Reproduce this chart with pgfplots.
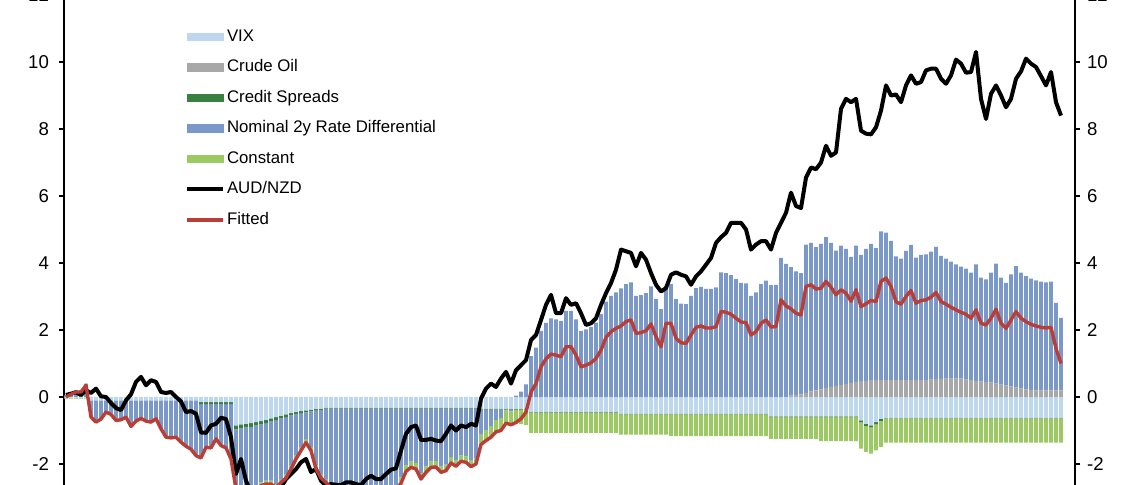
\documentclass[border=0pt]{standalone}
\usepackage{fontspec}
\setmainfont{Liberation Sans}
\usepackage{pgfplots}
\usepackage{pgfplotstable}
\pgfplotsset{compat=1.18}
\definecolor{vixc}{RGB}{189,215,238}
\definecolor{oilc}{RGB}{168,168,168}
\definecolor{credc}{RGB}{56,128,64}
\definecolor{nomc}{RGB}{122,152,202}
\definecolor{constc}{RGB}{155,201,98}
\definecolor{fitc}{RGB}{185,62,55}

\pgfplotstableread{
x aud fit vix oil cred nom const
0 0.06 0.00 -0.02 0 0 0.05 -0.03
1 0.10 0.08 -0.02 0 0 0.13 -0.03
2 0.14 0.15 -0.02 0 0 0.20 -0.03
3 0.06 0.15 -0.02 0 0 0.20 -0.03
4 0.20 0.35 -0.02 0 0 0.40 -0.03
5 0.12 -0.60 -0.10 0 0 -0.47 -0.03
6 0.25 -0.75 -0.10 0 0 -0.62 -0.03
7 0.02 -0.66 -0.10 0 0 -0.53 -0.03
8 0.00 -0.45 -0.10 0 0 -0.32 -0.03
9 -0.18 -0.52 -0.10 0 0 -0.39 -0.03
10 -0.33 -0.70 -0.10 0 0 -0.57 -0.03
11 -0.39 -0.68 -0.10 0 0 -0.55 -0.03
12 -0.10 -0.60 -0.10 0 0 -0.47 -0.03
13 0.08 -0.88 -0.10 0 0 -0.75 -0.03
14 0.45 -0.72 -0.10 0 0 -0.59 -0.03
15 0.60 -0.64 -0.10 0 0 -0.51 -0.03
16 0.35 -0.72 -0.10 0 0 -0.59 -0.03
17 0.50 -0.75 -0.10 0 0 -0.62 -0.03
18 0.45 -0.65 -0.10 0 0 -0.52 -0.03
19 0.15 -0.95 -0.10 0 0 -0.82 -0.03
20 0.12 -1.20 -0.10 0 0 -1.07 -0.03
21 0.15 -1.22 -0.10 0 0 -1.09 -0.03
22 0.00 -1.20 -0.10 0 0 -1.07 -0.03
23 -0.13 -1.35 -0.10 0 0 -1.22 -0.03
24 -0.45 -1.47 -0.10 0 0 -1.34 -0.03
25 -0.42 -1.56 -0.10 0 0 -1.43 -0.03
26 -0.50 -1.75 -0.10 0 0 -1.62 -0.03
27 -1.06 -1.82 -0.15 0 -0.06 -1.58 -0.03
28 -1.07 -1.50 -0.15 0 -0.06 -1.26 -0.03
29 -0.85 -1.52 -0.15 0 -0.06 -1.28 -0.03
30 -0.80 -1.25 -0.15 0 -0.06 -1.01 -0.03
31 -0.62 -1.45 -0.15 0 -0.06 -1.21 -0.03
32 -0.66 -1.52 -0.15 0 -0.06 -1.28 -0.03
33 -1.20 -1.85 -0.15 0 -0.06 -1.61 -0.03
34 -2.30 -2.75 -0.85 0 -0.12 -1.68 -0.10
35 -1.85 -2.80 -0.82 0 -0.12 -1.76 -0.10
36 -2.50 -2.90 -0.80 0 -0.11 -1.89 -0.10
37 -2.85 -2.95 -0.78 0 -0.11 -1.96 -0.10
38 -2.90 -2.85 -0.75 0 -0.10 -1.90 -0.10
39 -2.90 -2.65 -0.72 0 -0.10 -1.73 -0.10
40 -2.85 -2.60 -0.68 0 -0.10 -1.72 -0.10
41 -2.80 -2.60 -0.64 0 -0.09 -1.77 -0.10
42 -2.80 -2.70 -0.60 0 -0.09 -1.91 -0.10
43 -2.70 -2.55 -0.56 0 -0.08 -1.81 -0.10
44 -2.45 -2.42 -0.52 0 -0.08 -1.72 -0.10
45 -2.30 -2.15 -0.48 0 -0.07 -1.50 -0.10
46 -2.15 -1.85 -0.45 0 -0.07 -1.23 -0.10
47 -1.95 -1.60 -0.42 0 -0.06 -1.02 -0.10
48 -1.85 -1.36 -0.40 0 -0.06 -0.80 -0.10
49 -2.24 -1.60 -0.38 0 -0.05 -1.07 -0.10
50 -2.15 -2.15 -0.36 0 -0.05 -1.64 -0.10
51 -2.50 -2.42 -0.35 0 -0.05 -1.92 -0.10
52 -2.65 -2.55 -0.32 0 -0.03 -2.10 -0.10
53 -2.60 -2.70 -0.32 0 -0.03 -2.25 -0.10
54 -2.62 -2.80 -0.32 0 -0.03 -2.35 -0.10
55 -2.63 -2.85 -0.32 0 -0.03 -2.40 -0.10
56 -2.55 -2.85 -0.32 0 -0.03 -2.40 -0.10
57 -2.55 -2.90 -0.32 0 -0.03 -2.45 -0.10
58 -2.60 -2.85 -0.32 0 -0.03 -2.40 -0.10
59 -2.63 -2.80 -0.32 0 -0.03 -2.35 -0.10
60 -2.45 -2.85 -0.32 0 -0.03 -2.40 -0.10
61 -2.35 -2.90 -0.32 0 -0.03 -2.45 -0.10
62 -2.45 -2.85 -0.32 0 -0.03 -2.40 -0.10
63 -2.45 -2.80 -0.32 0 -0.03 -2.35 -0.10
64 -2.30 -2.80 -0.32 0 -0.03 -2.35 -0.10
65 -2.17 -2.85 -0.32 0 -0.03 -2.40 -0.10
66 -2.13 -2.75 -0.32 0 -0.03 -2.30 -0.10
67 -1.60 -2.58 -0.32 0 -0.03 -2.05 -0.18
68 -1.10 -2.22 -0.32 0 -0.03 -1.69 -0.18
69 -0.90 -2.10 -0.32 0 -0.03 -1.57 -0.18
70 -0.85 -2.15 -0.32 0 -0.03 -1.62 -0.18
71 -1.28 -2.45 -0.32 0 -0.03 -1.92 -0.18
72 -1.28 -2.25 -0.32 0 -0.03 -1.72 -0.18
73 -1.25 -2.10 -0.32 0 -0.03 -1.57 -0.18
74 -1.30 -2.09 -0.32 0 -0.03 -1.56 -0.18
75 -1.32 -2.25 -0.32 0 -0.03 -1.72 -0.18
76 -1.10 -2.20 -0.32 0 -0.03 -1.67 -0.18
77 -0.85 -1.97 -0.32 0 -0.03 -1.44 -0.18
78 -1.00 -2.07 -0.32 0 -0.03 -1.54 -0.18
79 -0.85 -1.92 -0.32 0 -0.03 -1.39 -0.18
80 -0.90 -1.95 -0.32 0 -0.03 -1.42 -0.18
81 -0.80 -2.08 -0.32 0 -0.03 -1.55 -0.18
82 -0.85 -2.00 -0.32 0 -0.03 -1.47 -0.18
83 -0.05 -1.42 -0.35 0 -0.03 -0.74 -0.30
84 0.25 -1.30 -0.35 0 -0.03 -0.60 -0.32
85 0.40 -1.20 -0.35 0 -0.03 -0.49 -0.33
86 0.30 -1.04 -0.35 0 -0.03 -0.31 -0.35
87 0.55 -1.00 -0.35 0 -0.03 -0.25 -0.37
88 0.75 -0.78 -0.35 0 -0.03 -0.02 -0.38
89 0.40 -0.83 -0.35 0 -0.03 -0.05 -0.40
90 0.80 -0.76 -0.35 0 -0.03 0.04 -0.42
91 0.95 -0.65 -0.35 0 -0.03 0.16 -0.43
92 1.10 -0.45 -0.35 0 -0.03 0.38 -0.45
93 1.70 0.15 -0.45 0 -0.02 1.22 -0.60
94 1.85 0.40 -0.45 0 -0.02 1.47 -0.60
95 2.30 0.90 -0.45 0 -0.02 1.97 -0.60
96 2.75 1.14 -0.45 0 -0.02 2.21 -0.60
97 3.05 1.28 -0.45 0 -0.02 2.35 -0.60
98 2.50 1.25 -0.45 0 -0.02 2.32 -0.60
99 2.50 1.20 -0.45 0 -0.02 2.27 -0.60
100 2.95 1.50 -0.45 0 -0.02 2.57 -0.60
101 2.75 1.50 -0.45 0 -0.02 2.57 -0.60
102 2.80 1.25 -0.45 0 -0.02 2.32 -0.60
103 2.50 0.90 -0.45 0 -0.02 1.97 -0.60
104 2.15 0.95 -0.45 0 -0.02 2.02 -0.60
105 2.20 1.02 -0.45 0 -0.02 2.09 -0.60
106 2.35 1.15 -0.45 0 -0.02 2.22 -0.60
107 2.75 1.40 -0.45 0 -0.02 2.47 -0.60
108 3.10 1.78 -0.45 0 -0.02 2.85 -0.60
109 3.40 1.95 -0.45 0 -0.02 3.02 -0.60
110 3.80 2.05 -0.45 0 -0.02 3.12 -0.60
111 4.40 2.12 -0.50 0 -0.02 3.24 -0.60
112 4.35 2.25 -0.50 0 -0.02 3.37 -0.60
113 4.30 2.30 -0.50 0 -0.02 3.42 -0.60
114 3.90 1.90 -0.50 0 -0.02 3.02 -0.60
115 4.30 1.92 -0.50 0 -0.02 3.04 -0.60
116 4.10 1.98 -0.50 0 -0.02 3.10 -0.60
117 3.70 2.18 -0.50 0 -0.02 3.30 -0.60
118 3.35 1.80 -0.50 0 -0.02 2.92 -0.60
119 3.15 1.50 -0.50 0 -0.02 2.62 -0.60
120 3.25 2.20 -0.50 0 -0.02 3.32 -0.60
121 3.65 2.20 -0.50 0 -0.02 3.37 -0.65
122 3.72 1.75 -0.50 0 -0.02 2.92 -0.65
123 3.65 1.62 -0.50 0 -0.02 2.79 -0.65
124 3.60 1.60 -0.50 0 -0.02 2.77 -0.65
125 3.35 1.85 -0.50 0 -0.02 3.02 -0.65
126 3.60 2.08 -0.50 0 -0.02 3.25 -0.65
127 3.75 2.12 -0.50 0 -0.02 3.29 -0.65
128 3.95 2.06 -0.50 0 -0.02 3.23 -0.65
129 4.15 2.06 -0.50 0 -0.02 3.23 -0.65
130 4.60 2.10 -0.50 0 -0.02 3.27 -0.65
131 4.77 2.55 -0.50 0 -0.02 3.72 -0.65
132 4.90 2.53 -0.50 0 -0.02 3.70 -0.65
133 5.20 2.47 -0.50 0 -0.02 3.64 -0.65
134 5.20 2.35 -0.50 0 -0.02 3.52 -0.65
135 5.20 2.24 -0.50 0 -0.02 3.41 -0.65
136 5.00 2.22 -0.50 0 -0.02 3.39 -0.65
137 4.40 1.85 -0.50 0 -0.02 3.02 -0.65
138 4.55 1.95 -0.50 0 -0.02 3.12 -0.65
139 4.65 2.20 -0.50 0 -0.02 3.37 -0.65
140 4.65 2.30 -0.50 0 -0.02 3.47 -0.65
141 4.40 2.09 -0.58 0 -0.02 3.34 -0.65
142 4.90 2.10 -0.58 0 -0.02 3.35 -0.65
143 5.20 2.90 -0.58 0 -0.02 4.15 -0.65
144 5.50 2.72 -0.58 0 -0.02 3.97 -0.65
145 6.10 2.63 -0.58 0.04 -0.02 3.84 -0.65
146 5.70 2.50 -0.58 0.06 -0.02 3.69 -0.65
147 5.64 2.45 -0.58 0.08 -0.02 3.62 -0.65
148 6.55 3.30 -0.58 0.12 -0.02 4.43 -0.65
149 6.85 3.35 -0.58 0.16 -0.02 4.44 -0.65
150 6.80 3.22 -0.58 0.20 -0.02 4.27 -0.65
151 7.00 3.25 -0.58 0.23 -0.02 4.34 -0.72
152 7.50 3.45 -0.58 0.27 -0.02 4.50 -0.72
153 7.20 3.28 -0.58 0.30 -0.02 4.30 -0.72
154 7.30 3.05 -0.58 0.33 -0.02 4.04 -0.72
155 8.60 3.20 -0.58 0.36 -0.02 4.16 -0.72
156 8.90 3.10 -0.58 0.39 -0.02 4.03 -0.72
157 8.80 2.86 -0.58 0.42 -0.02 3.76 -0.72
158 8.90 3.20 -0.58 0.45 -0.02 4.07 -0.72
159 7.95 2.70 -0.70 0.47 -0.06 3.77 -0.78
160 7.86 2.78 -0.80 0.48 -0.06 3.94 -0.78
161 7.84 2.88 -0.85 0.50 -0.06 4.07 -0.78
162 8.05 2.85 -0.75 0.50 -0.06 3.94 -0.78
163 8.55 3.45 -0.65 0.50 -0.06 4.44 -0.78
164 9.30 3.55 -0.62 0.50 -0.02 4.41 -0.72
165 9.00 3.30 -0.62 0.50 -0.02 4.16 -0.72
166 9.03 2.84 -0.62 0.50 -0.02 3.70 -0.72
167 8.80 2.77 -0.62 0.50 -0.02 3.63 -0.72
168 9.30 3.00 -0.62 0.50 -0.02 3.86 -0.72
169 9.60 3.18 -0.62 0.50 -0.02 4.04 -0.72
170 9.35 2.80 -0.62 0.50 -0.02 3.66 -0.72
171 9.40 2.88 -0.62 0.50 -0.02 3.74 -0.72
172 9.75 2.90 -0.62 0.50 -0.02 3.76 -0.72
173 9.80 2.98 -0.62 0.52 -0.02 3.82 -0.72
174 9.80 3.12 -0.62 0.53 -0.02 3.95 -0.72
175 9.50 2.85 -0.62 0.54 -0.02 3.67 -0.72
176 9.35 2.77 -0.62 0.55 -0.02 3.58 -0.72
177 9.60 2.68 -0.62 0.55 -0.02 3.49 -0.72
178 10.07 2.60 -0.62 0.55 -0.02 3.41 -0.72
179 9.95 2.53 -0.62 0.55 -0.02 3.34 -0.72
180 9.68 2.47 -0.62 0.52 -0.02 3.31 -0.72
181 9.70 2.35 -0.62 0.50 -0.02 3.21 -0.72
182 10.30 2.60 -0.62 0.48 -0.02 3.48 -0.72
183 8.90 2.20 -0.62 0.46 -0.02 3.10 -0.72
184 8.30 2.15 -0.62 0.44 -0.02 3.07 -0.72
185 9.05 2.35 -0.62 0.43 -0.02 3.28 -0.72
186 9.30 2.62 -0.62 0.40 -0.02 3.58 -0.72
187 9.00 2.20 -0.62 0.37 -0.02 3.19 -0.72
188 8.65 2.05 -0.62 0.34 -0.02 3.07 -0.72
189 8.90 2.30 -0.62 0.31 -0.02 3.35 -0.72
190 9.50 2.55 -0.62 0.28 -0.02 3.63 -0.72
191 9.72 2.35 -0.62 0.25 -0.02 3.46 -0.72
192 10.10 2.25 -0.62 0.22 -0.02 3.39 -0.72
193 9.95 2.17 -0.62 0.21 -0.02 3.32 -0.72
194 9.85 2.12 -0.62 0.20 -0.02 3.28 -0.72
195 9.58 2.08 -0.62 0.20 -0.02 3.24 -0.72
196 9.30 2.06 -0.62 0.20 -0.02 3.22 -0.72
197 9.70 2.08 -0.62 0.20 -0.02 3.24 -0.72
198 8.80 1.45 -0.62 0.20 -0.02 2.61 -0.72
199 8.40 1.00 -0.62 0.20 -0.02 2.16 -0.72
}\data

\pgfplotsset{
  base/.style={
    scale only axis, width=505.5pt, height=268pt,
    at={(32pt,-23pt)}, anchor=south west,
    xmin=-0.4, xmax=201.8, ymin=-4, ymax=12,
    ytick={-2,0,...,12},
    tick align=outside, major tick length=2.5pt,
    axis line style={line width=0.6pt, black},
    every tick/.style={line width=0.6pt, black},
    /pgf/number format/assume math mode=true,
    yticklabel style={font=\fontsize{9.3}{11}\selectfont},
    axis x line=none,
  },
  bars/.style={ybar stacked, bar width=1.95pt},
}

\begin{document}
\begin{tikzpicture}
\useasboundingbox (0,0) rectangle (570pt,242.5pt);
\clip (0,0) rectangle (570pt,242.5pt);
% negative stack + left axis
\begin{axis}[base, bars, axis y line*=left, yticklabel style={xshift=-1.5pt}]
\addplot[fill=vixc, draw=none] table[x=x, y=vix] {\data};
\addplot[fill=credc, draw=none] table[x=x, y=cred] {\data};
\addplot[fill=nomc, draw=none] table[x=x, y expr={min(\thisrow{nom},0)}] {\data};
\addplot[fill=constc, draw=none] table[x=x, y=const] {\data};
\end{axis}
% positive stack
\begin{axis}[base, bars, hide axis]
\addplot[fill=oilc, draw=none] table[x=x, y=oil] {\data};
\addplot[fill=nomc, draw=none] table[x=x, y expr={max(\thisrow{nom},0)}] {\data};
\end{axis}
% lines + right axis + legend
\begin{axis}[base, axis y line*=right,
  legend cell align=left,
  legend style={at={(0.1197,0.9366)}, anchor=north west, draw=none, fill=none,
    inner sep=0pt, outer sep=0pt, row sep=7.25pt, column sep=1pt,
    font=\fontsize{8.4}{10}\selectfont,
    nodes={inner sep=0pt, text height=6.2pt, text depth=1.8pt}},
]
\addlegendimage{legend image code/.code={\fill[vixc] (0pt,-1.9pt) rectangle (18pt,1.9pt);}}
\addlegendentry{VIX}
\addlegendimage{legend image code/.code={\fill[oilc] (0pt,-1.9pt) rectangle (18pt,1.9pt);}}
\addlegendentry{Crude Oil}
\addlegendimage{legend image code/.code={\fill[credc] (0pt,-1.9pt) rectangle (18pt,1.9pt);}}
\addlegendentry{Credit Spreads}
\addlegendimage{legend image code/.code={\fill[nomc] (0pt,-1.9pt) rectangle (18pt,1.9pt);}}
\addlegendentry{Nominal 2y Rate Differential}
\addlegendimage{legend image code/.code={\fill[constc] (0pt,-1.9pt) rectangle (18pt,1.9pt);}}
\addlegendentry{Constant}
\addplot[black, line width=2pt, line join=round,
  legend image code/.code={\draw[black, line width=2pt] (0pt,0pt) -- (18pt,0pt);}]
  table[x=x, y=aud] {\data};
\addlegendentry{AUD/NZD}
\addplot[fitc, line width=1.7pt, line join=round,
  legend image code/.code={\draw[fitc, line width=1.7pt] (0pt,0pt) -- (18pt,0pt);}]
  table[x=x, y=fit] {\data};
\addlegendentry{Fitted}
\end{axis}
\end{tikzpicture}
\end{document}
